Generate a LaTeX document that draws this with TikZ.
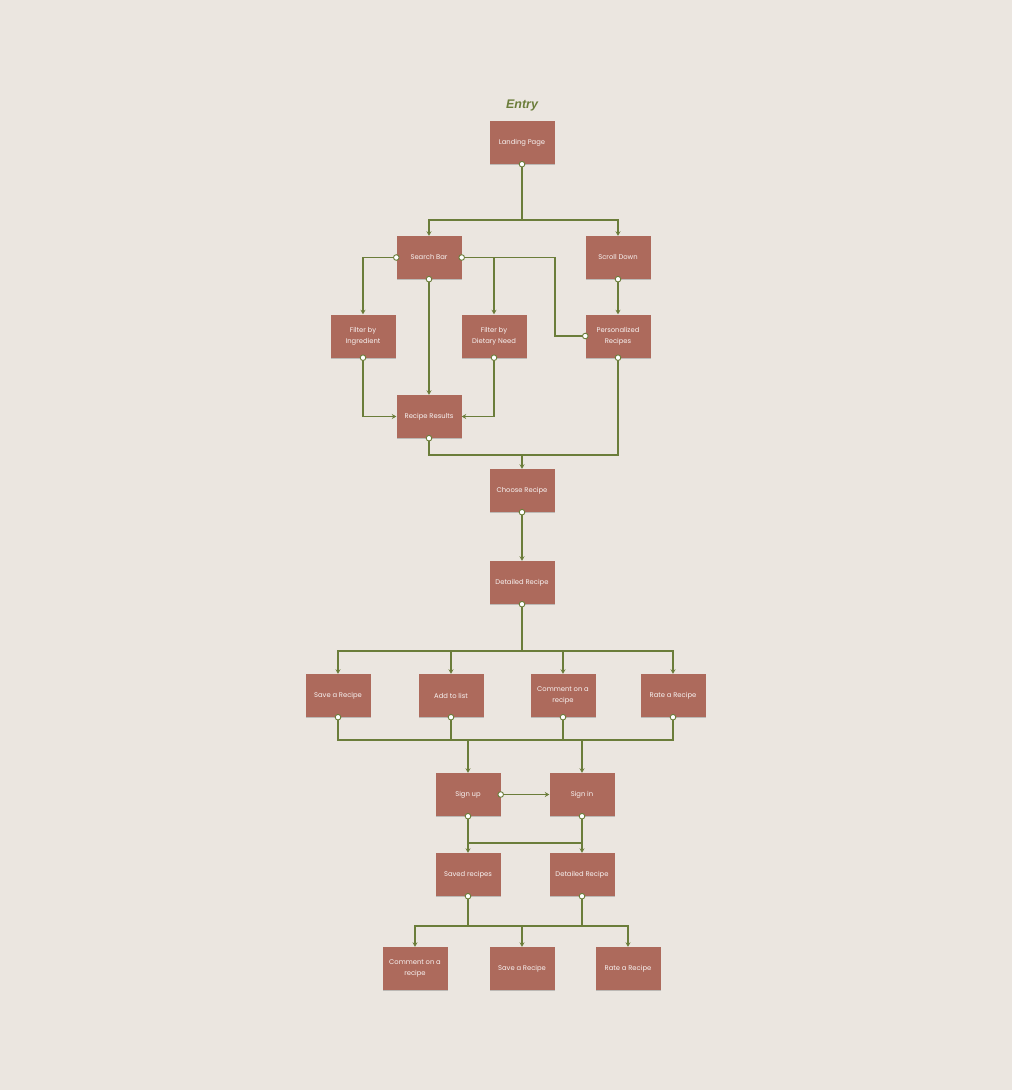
\documentclass[tikz,border=0pt]{standalone}
\usepackage{fontspec}
\setmainfont{Poppins}
\newfontfamily\entryfont{Liberation Sans}
\usepackage{tikz}
\usetikzlibrary{arrows.meta}
\usetikzlibrary{shadows}

\definecolor{bgcol}{HTML}{EBE6E0}
\definecolor{boxcol}{HTML}{AD6A5C}
\definecolor{wirecol}{HTML}{6B7D3A}

\begin{document}
\begin{tikzpicture}[x=1pt,y=-1pt,
		page/.style={fill=boxcol, minimum width=65pt, minimum height=43pt, inner sep=2pt, text=white!92!boxcol, font=\fontsize{6.8}{11}\selectfont, align=center, drop shadow={shadow xshift=0.6pt, shadow yshift=-1pt, opacity=0.35, fill=black!60}},
		wire/.style={draw=wirecol, line width=1.7pt},
		link/.style={wire, -{Stealth[length=4.5pt,width=5pt]}},
		knob/.style={draw=wirecol, fill=white, line width=0.9pt}]
				\useasboundingbox[fill=bgcol] (0,0) rectangle (1012,1090);
				
				\node[font=\entryfont\bfseries\itshape\fontsize{12.5}{12.5}\selectfont, text=wirecol] (entry) at (522,105) {Entry};
				
				\node[page] (lp) at (522,142.5) {Landing Page};
				\node[page] (sb) at (429,257.5) {Search Bar};
				\node[page] (sd) at (618,257.5) {Scroll Down};
				\node[page] (fi) at (363,336) {Filter by\\Ingredient};
				\node[page] (fd) at (494,336) {Filter by\\Dietary Need};
				\node[page] (pr) at (618,336) {Personalized\\Recipes};
				\node[page] (rr) at (429,416.5) {Recipe Results};
				\node[page] (cr) at (522,490.5) {Choose Recipe};
				\node[page] (dr) at (522,582.5) {Detailed Recipe};
				
				\node[page] (sr1) at (338,695.5) {Save a Recipe};
				\node[page] (al)  at (451,695.5) {Add to list};
				\node[page] (cm1) at (563,695.5) {Comment on a\\recipe};
				\node[page] (rt1) at (673,695.5) {Rate a Recipe};
				
				\node[page] (su)  at (468,794.5) {Sign up};
				\node[page] (si)  at (582,794.5) {Sign in};
				\node[page] (sv)  at (468,874.5) {Saved recipes};
				\node[page] (dr2) at (582,874.5) {Detailed Recipe};
				
				\node[page] (cm2) at (415,968.5) {Comment on a\\recipe};
				\node[page] (sr2) at (522,968.5) {Save a Recipe};
				\node[page] (rt2) at (628,968.5) {Rate a Recipe};
				
				\coordinate (j1) at (522,220);
				\coordinate (k1) at (555,257.5);
				\coordinate (j2) at (522,455);
				\coordinate (j3) at (522,651);
				\coordinate (j4) at (468,740);
				\coordinate (j5) at (582,740);
				\coordinate (j6) at (468,843);
				\coordinate (j7) at (582,843);
				\coordinate (j8) at (468,926);
				\coordinate (j9) at (582,926);
				\coordinate (j10) at (522,926);
				
				\draw[wire] (lp.south) -- (j1);
				\draw[link] (j1) -| (sb.north);
				\draw[link] (j1) -| (sd.north);
				
				\draw[link] (sb.west) -| (fi.north);
				\draw[link] (sb.east) -| (fd.north);
				\draw[wire] (sb.east) -- (k1) |- (pr.west);
				\draw[link] (sb.south) -- (rr.north);
				\draw[link] (sd.south) -- (pr.north);
				
				\draw[link] (fi.south) |- (rr.west);
				\draw[link] (fd.south) |- (rr.east);
				
				\draw[wire] (rr.south) |- (j2);
				\draw[wire] (pr.south) |- (j2);
				\draw[link] (j2) -- (cr.north);
				\draw[link] (cr.south) -- (dr.north);
				
				\draw[wire] (dr.south) -- (j3);
				\draw[link] (j3) -| (sr1.north);
				\draw[link] (j3) -| (al.north);
				\draw[link] (j3) -| (cm1.north);
				\draw[link] (j3) -| (rt1.north);
				
				\draw[wire] (sr1.south) |- (j4) -- (j5) -| (rt1.south);
				\draw[wire] (al.south) -- (al.south |- j4);
				\draw[wire] (cm1.south) -- (cm1.south |- j4);
				\draw[link] (j4) -- (su.north);
				\draw[link] (j5) -- (si.north);
				
				\draw[link] (su.east) -- (si.west);
				\draw[link] (su.south) -- (sv.north);
				\draw[link] (si.south) -- (dr2.north);
				\draw[wire] (j6) -- (j7);
				
				\draw[wire] (sv.south) -- (j8);
				\draw[wire] (dr2.south) -- (j9);
				\draw[wire] (j8) -- (j9);
				\draw[link] (j8) -| (cm2.north);
				\draw[link] (j9) -| (rt2.north);
				\draw[link] (j10) -- (sr2.north);
				
				\foreach \a in {lp.south, sb.west, sb.east, sb.south, sd.south, fi.south, fd.south, pr.west, pr.south, rr.south, cr.south, dr.south, sr1.south, al.south, cm1.south, rt1.south, su.east, su.south, si.south, sv.south, dr2.south}
					\draw[knob] (\a) circle (2.8pt);
			\end{tikzpicture}
\end{document}
